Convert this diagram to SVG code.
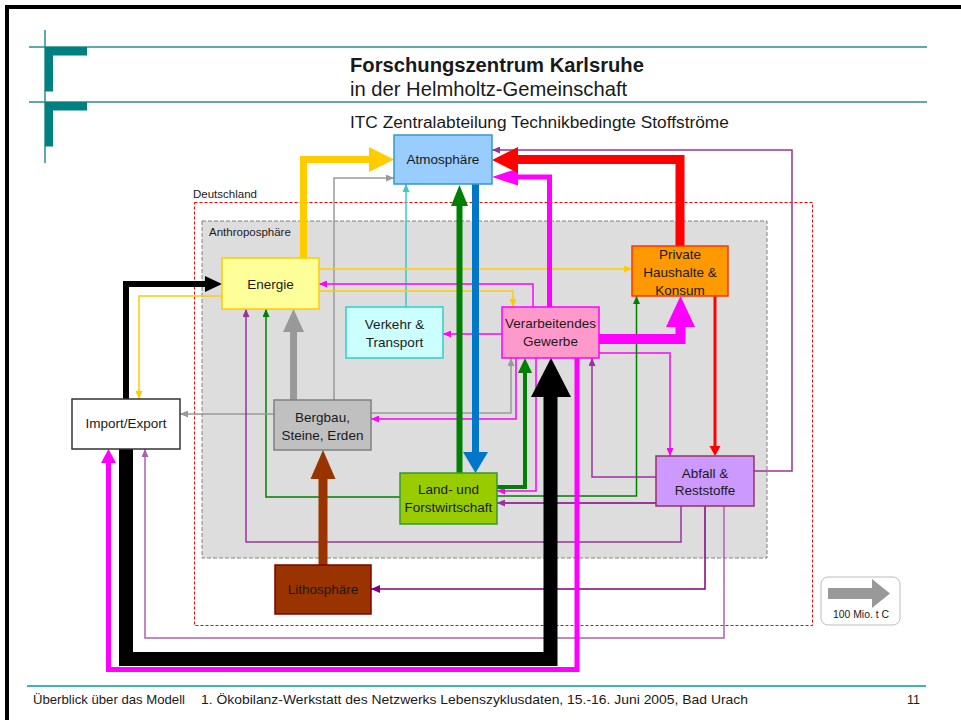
<svg xmlns="http://www.w3.org/2000/svg" width="961" height="720" viewBox="0 0 961 720">
<style>
text{font-family:"Liberation Sans",Arial,sans-serif;fill:#1a1a1a}
.nt{font-size:13.5px;text-anchor:middle}
.lbl{font-size:11.5px}
.ft{font-size:13px}
.box{stroke-width:1.5}
.thin{fill:none;stroke-width:1.5;stroke-linejoin:miter}
.thick{fill:none;stroke-linejoin:miter;stroke-linecap:butt}
</style>
<defs>
<marker id="mY" markerUnits="userSpaceOnUse" markerWidth="8" markerHeight="7" viewBox="0 0 8 7" refX="8" refY="3.5" orient="auto"><path d="M0,0L8,3.5L0,7z" fill="#FFCC00"/></marker>
<marker id="mM" markerUnits="userSpaceOnUse" markerWidth="8" markerHeight="7" viewBox="0 0 8 7" refX="8" refY="3.5" orient="auto"><path d="M0,0L8,3.5L0,7z" fill="#FF00FF"/></marker>
<marker id="mG" markerUnits="userSpaceOnUse" markerWidth="8" markerHeight="7" viewBox="0 0 8 7" refX="8" refY="3.5" orient="auto"><path d="M0,0L8,3.5L0,7z" fill="#008000"/></marker>
<marker id="mGr" markerUnits="userSpaceOnUse" markerWidth="8" markerHeight="7" viewBox="0 0 8 7" refX="8" refY="3.5" orient="auto"><path d="M0,0L8,3.5L0,7z" fill="#999999"/></marker>
<marker id="mC" markerUnits="userSpaceOnUse" markerWidth="8" markerHeight="7" viewBox="0 0 8 7" refX="8" refY="3.5" orient="auto"><path d="M0,0L8,3.5L0,7z" fill="#33CCCC"/></marker>
<marker id="mP" markerUnits="userSpaceOnUse" markerWidth="8" markerHeight="7" viewBox="0 0 8 7" refX="8" refY="3.5" orient="auto"><path d="M0,0L8,3.5L0,7z" fill="#993399"/></marker>
<marker id="mPd" markerUnits="userSpaceOnUse" markerWidth="9" markerHeight="8" viewBox="0 0 9 8" refX="9" refY="4" orient="auto"><path d="M0,0L9,4L0,8z" fill="#800080"/></marker>
<marker id="mPl" markerUnits="userSpaceOnUse" markerWidth="8" markerHeight="7" viewBox="0 0 8 7" refX="8" refY="3.5" orient="auto"><path d="M0,0L8,3.5L0,7z" fill="#B060B0"/></marker>
</defs>

<rect width="961" height="720" fill="#ffffff"/>
<!-- frame -->
<line x1="5" y1="7" x2="961" y2="7" stroke="#000" stroke-width="4"/>
<line x1="7" y1="5" x2="7" y2="720" stroke="#000" stroke-width="4"/>

<!-- header logo -->
<g id="header">
<line x1="45" y1="30" x2="45" y2="163" stroke="#2A8C8C" stroke-width="1.5"/>
<line x1="29" y1="47" x2="927" y2="47" stroke="#2A8C8C" stroke-width="1.5"/>
<line x1="29" y1="102" x2="927" y2="102" stroke="#2A8C8C" stroke-width="1.5"/>
<path d="M45,47H87V55.5H53V91.5H45z" fill="#008080"/>
<path d="M45,102H87V110.5H53V146.5H45z" fill="#008080"/>
<text x="350" y="72" style="font-size:20.2px;font-weight:bold">Forschungszentrum Karlsruhe</text>
<text x="350" y="96" style="font-size:20.2px">in der Helmholtz-Gemeinschaft</text>
<text x="350" y="128" style="font-size:17.3px">ITC Zentralabteilung Technikbedingte Stoffströme</text>
</g>

<!-- regions -->
<g id="deutschland">
<rect x="194.5" y="202.5" width="618" height="423" fill="none" stroke="#FF0000" stroke-width="1" stroke-dasharray="3,2"/>
<text class="lbl" x="193" y="198">Deutschland</text>
</g>
<g id="anthroposphaere">
<rect x="202" y="221" width="565" height="337" fill="#DDDDDD" stroke="#808080" stroke-width="1" stroke-dasharray="4,2"/>
<text class="lbl" x="209" y="236">Anthroposphäre</text>
</g>

<!-- connectors -->
<g id="connectors">
<!-- thin -->
<path class="thin" d="M334,400V178H394" stroke="#999999" marker-end="url(#mGr)"/>
<path class="thin" d="M406,307V184" stroke="#33CCCC" marker-end="url(#mC)"/>
<path class="thin" d="M754,471H792V150H492" stroke="#993399" marker-end="url(#mP)"/>
<path class="thin" d="M222,296H139V399" stroke="#FFCC00" marker-end="url(#mY)"/>
<path class="thin" d="M319,269H632" stroke="#FFCC00" stroke-width="2" marker-end="url(#mY)"/>
<path class="thin" d="M319,291H513V307" stroke="#FFCC00" stroke-width="2" marker-end="url(#mY)"/>
<path class="thin" d="M533,307V284H319" stroke="#FF00FF" marker-end="url(#mM)"/>
<path class="thin" d="M502,334H443" stroke="#FF00FF" stroke-width="2" marker-end="url(#mM)"/>
<path class="thin" d="M599,353H670V456" stroke="#FF00FF" marker-end="url(#mM)"/>
<path class="thin" d="M497,496H636.5V296" stroke="#008000" stroke-width="1.2" marker-end="url(#mG)"/>
<path class="thin" d="M400,497H266V309" stroke="#008000" stroke-width="1.2" marker-end="url(#mG)"/>
<path class="thin" d="M536,358V491H497" stroke="#FF00FF" marker-end="url(#mM)"/>
<path class="thin" d="M371,413H511V358" stroke="#999999" stroke-width="2" marker-end="url(#mGr)"/>
<path class="thin" d="M516,358V419H371" stroke="#FF00FF" marker-end="url(#mM)"/>
<path class="thin" d="M274,414H180" stroke="#999999" marker-end="url(#mGr)"/>
<path class="thin" d="M681,506V542H246V309" stroke="#993399" marker-end="url(#mP)"/>
<path class="thin" d="M656,477H592V358" stroke="#993399" marker-end="url(#mP)"/>
<path class="thin" d="M656,503H497" stroke="#800080" marker-end="url(#mP)"/>
<path class="thin" d="M705,506V589H371" stroke="#800080" stroke-width="2" marker-end="url(#mPd)"/>
<path class="thin" d="M724,506V638H145V449" stroke="#B060B0" marker-end="url(#mPl)"/>
<!-- red to Abfall -->
<path class="thick" d="M715,296V447" stroke="#FF0000" stroke-width="3"/>
<polygon points="709.5,446 715,456 720.5,446" fill="#FF0000"/>
<!-- thick -->
<path class="thick" d="M303.5,258V159.5H370" stroke="#FFCC00" stroke-width="7"/>
<polygon points="369,147 394,159.5 369,172" fill="#FFCC00"/>
<path class="thick" d="M459.5,473V205" stroke="#008000" stroke-width="6"/>
<polygon points="451,206 459.5,185 468,206" fill="#008000"/>
<path class="thick" d="M475.5,184V453" stroke="#0077C8" stroke-width="7"/>
<polygon points="463,452 475.5,473 488,452" fill="#0077C8"/>
<path class="thick" d="M549.5,307V177H517" stroke="#FF00FF" stroke-width="5"/>
<polygon points="518,168.5 492,177 518,185.5" fill="#FF00FF"/>
<path class="thick" d="M680,246V159.5H517" stroke="#FF0000" stroke-width="9"/>
<polygon points="518,147 492,160 518,173" fill="#FF0000"/>
<path class="thick" d="M126,399V284H206" stroke="#000000" stroke-width="6"/>
<polygon points="205,276 222,284 205,292" fill="#000000"/>
<path class="thick" d="M599,339H680.5V326" stroke="#FF00FF" stroke-width="10"/>
<polygon points="666,327 680.5,296 695,327" fill="#FF00FF"/>
<path class="thick" d="M497,487H525V372" stroke="#008000" stroke-width="4"/>
<polygon points="518,373 525,358 532,373" fill="#008000"/>
<path class="thick" d="M293.5,400V331" stroke="#999999" stroke-width="7"/>
<polygon points="283,332 293.5,309 304,332" fill="#999999"/>
<path class="thick" d="M323,565V478" stroke="#993300" stroke-width="9"/>
<polygon points="310.5,479 323,450 335.5,479" fill="#993300"/>
<path class="thick" d="M126,449V659H550.5V396" stroke="#000000" stroke-width="14"/>
<polygon points="531,397 551,358 571,397" fill="#000000"/>
<path class="thick" d="M577,358V669.5H108.5V462" stroke="#FF00FF" stroke-width="5"/>
<polygon points="101,463 108.5,449 116,463" fill="#FF00FF"/>
</g>

<!-- nodes -->
<g id="atmosphaere">
<rect class="box" x="394" y="135" width="98" height="49" fill="#99CCFF" stroke="#3399CC"/>
<text class="nt" x="443" y="164">Atmosphäre</text>
</g>
<g id="energie">
<rect class="box" x="222" y="258" width="97" height="51" fill="#FFFF99" stroke="#FFCC00"/>
<text class="nt" x="270.5" y="289">Energie</text>
</g>
<g id="verkehr">
<rect class="box" x="346" y="307" width="97" height="51" fill="#CCFFFF" stroke="#33CCCC"/>
<text class="nt" x="394.5" y="329">Verkehr &amp;</text>
<text class="nt" x="394.5" y="347">Transport</text>
</g>
<g id="gewerbe">
<rect class="box" x="502" y="307" width="97" height="51" fill="#FF99CC" stroke="#FF00FF"/>
<text class="nt" x="550.5" y="328">Verarbeitendes</text>
<text class="nt" x="550.5" y="346">Gewerbe</text>
</g>
<g id="haushalte">
<rect class="box" x="632" y="246" width="96" height="50" fill="#FF9900" stroke="#FF3300"/>
<text class="nt" x="680" y="259">Private</text>
<text class="nt" x="680" y="277">Haushalte &amp;</text>
<text class="nt" x="680" y="295">Konsum</text>
</g>
<g id="importexport">
<rect class="box" x="72" y="399" width="108" height="50" fill="#FFFFFF" stroke="#333333"/>
<text class="nt" x="126" y="428">Import/Export</text>
</g>
<g id="bergbau">
<rect class="box" x="274" y="400" width="97" height="50" fill="#C0C0C0" stroke="#808080"/>
<text class="nt" x="322.5" y="422">Bergbau,</text>
<text class="nt" x="322.5" y="440">Steine, Erden</text>
</g>
<g id="land">
<rect class="box" x="400" y="473" width="97" height="51" fill="#99CC00" stroke="#339933"/>
<text class="nt" x="448.5" y="494">Land- und</text>
<text class="nt" x="448.5" y="512">Forstwirtschaft</text>
</g>
<g id="abfall">
<rect class="box" x="656" y="456" width="98" height="50" fill="#CC99FF" stroke="#993366"/>
<text class="nt" x="705" y="478">Abfall &amp;</text>
<text class="nt" x="705" y="495">Reststoffe</text>
</g>
<g id="lithosphaere">
<rect class="box" x="275" y="565" width="96" height="49" fill="#993300" stroke="#800000"/>
<text class="nt" x="323" y="594">Lithosphäre</text>
</g>

<!-- legend -->
<g id="legend">
<rect x="821" y="577" width="79" height="48" rx="7" fill="#FFFFFF" stroke="#BBBBBB" stroke-width="1"/>
<polygon points="828,588 872,588 872,579 890,593.5 872,608 872,599 828,599" fill="#999999"/>
<text x="861" y="618" style="font-size:10.5px;text-anchor:middle" textLength="56" lengthAdjust="spacingAndGlyphs">100 Mio. t C</text>
</g>

<!-- footer -->
<g id="footer">
<line x1="27" y1="686" x2="926" y2="686" stroke="#40B4B4" stroke-width="2"/>
<text class="ft" x="33" y="704" textLength="152" lengthAdjust="spacingAndGlyphs">Überblick über das Modell</text>
<text class="ft" x="201" y="704" textLength="547" lengthAdjust="spacingAndGlyphs">1. Ökobilanz-Werkstatt des Netzwerks Lebenszyklusdaten, 15.-16. Juni 2005, Bad Urach</text>
<text class="ft" x="907" y="704" textLength="13" lengthAdjust="spacingAndGlyphs">11</text>
</g>
</svg>
